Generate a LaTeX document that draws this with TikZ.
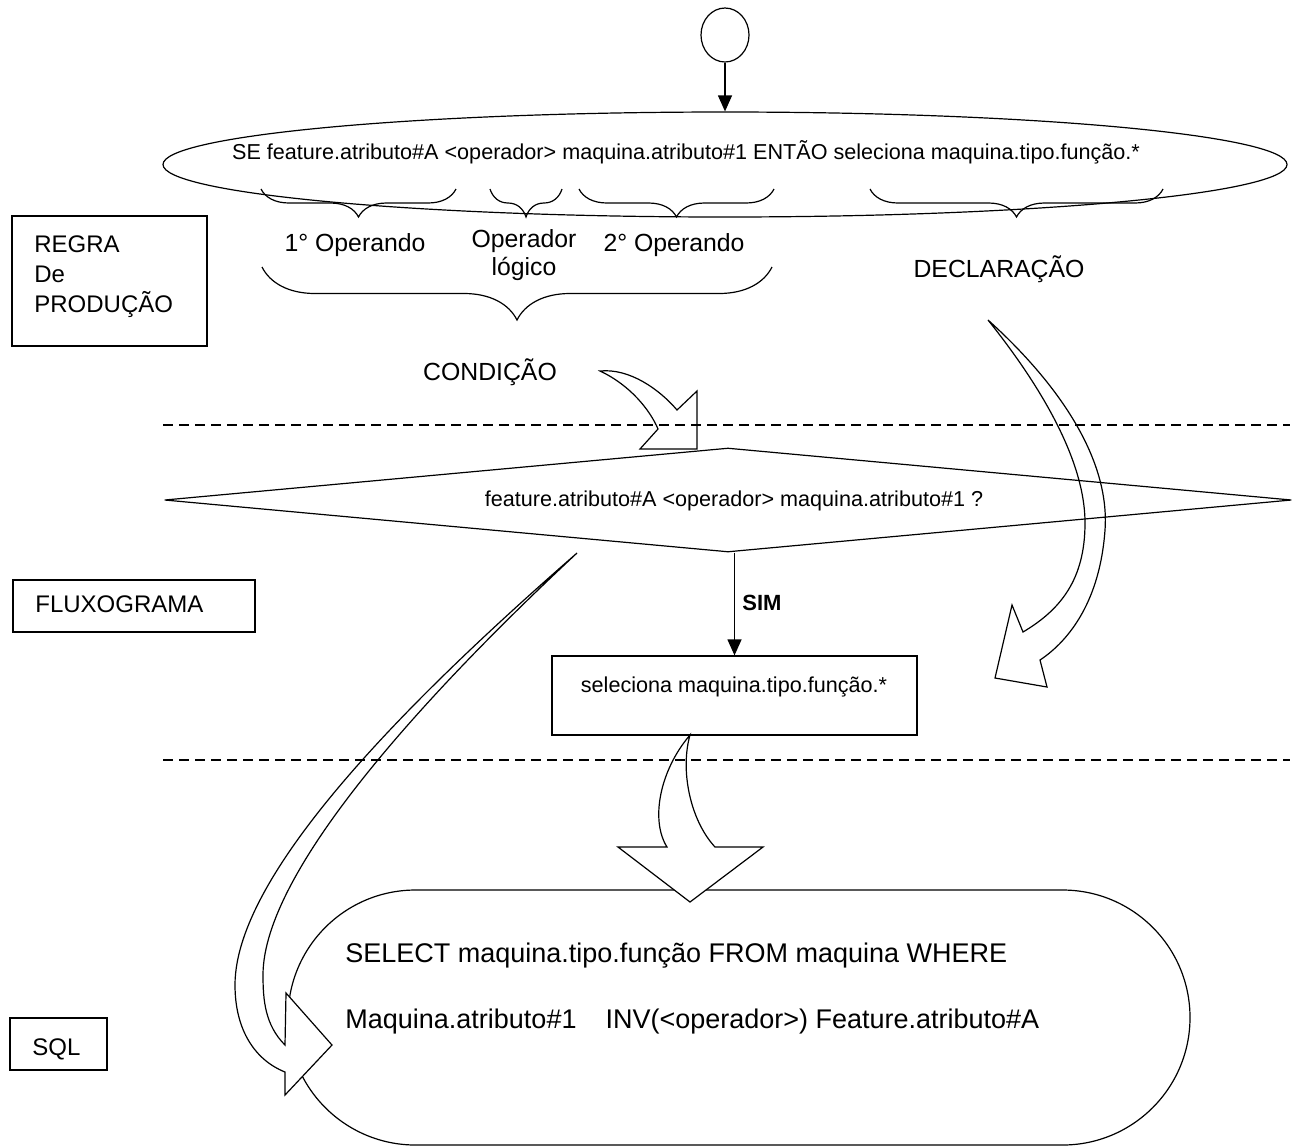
\documentclass[tikz,border=0pt]{standalone}
\usepackage{fontspec}
\setmainfont{Liberation Sans}
\usetikzlibrary{shapes.geometric,arrows.meta,decorations.pathreplacing}
\tikzset{
  box/.style={draw,line width=0.6pt,inner sep=0pt},
  flow/.style={line width=0.6pt,-{Triangle[length=8pt,width=7pt]}},
  bigarrow/.style={draw,line width=0.6pt,line join=miter},
  sep/.style={line width=1pt,dash pattern=on 5pt off 3pt},
  curly/.style={line width=0.6pt,decorate,decoration={brace,mirror,amplitude=#1}},
  rul/.style={font=\fontsize{10.8}{13}\selectfont,inner sep=0pt,anchor=base},
  lbl/.style={font=\fontsize{12.4}{14}\selectfont,inner sep=0pt,anchor=base},
  side/.style={font=\fontsize{12}{15}\selectfont,inner sep=0pt,anchor=base west,align=left},
  sqltxt/.style={font=\fontsize{13.5}{16}\selectfont,inner sep=0pt,anchor=base west}
}
\begin{document}
\begin{tikzpicture}[x=0.5pt,y=-0.5pt]
\useasboundingbox (0,0) rectangle (1299,1147);
\node[box,ellipse,minimum width=24pt,minimum height=27pt] (start) at (725,35) {};
\node[box,ellipse,minimum width=562pt,minimum height=52.5pt] (rule) at (725,164.5) {};
\node[rul] (ruletext) at (686,159) {SE feature.atributo\#A <operador> maquina.atributo\#1 ENTÃO seleciona maquina.tipo.função.*};
\draw[flow] (start) -- (rule);
\draw[curly=14pt] (261,189) -- (456,189);
\draw[curly=14pt] (490,189) -- (562,189);
\draw[curly=14pt] (579,189) -- (774,189);
\draw[curly=14pt] (870,189) -- (1163,189);
\node[lbl] (opnd1) at (355,251) {1° Operando};
\node[lbl,align=center] (oplog) at (524,275) {Operador\\lógico};
\node[lbl] (opnd2) at (674,251) {2° Operando};
\node[lbl] (decl) at (999,277) {DECLARAÇÃO};
\draw[curly=26.5pt] (262,267) -- (772,267);
\node[lbl] (cond) at (490,380) {CONDIÇÃO};
\node[box,minimum width=97.5pt,minimum height=65pt] (regrabox) at (109.5,281) {};
\node[side] (regra) at (34,312) {REGRA\\De\\PRODUÇÃO};
\node[box,minimum width=121pt,minimum height=26pt] (fluxbox) at (134,606) {};
\node[side] (flux) at (35,612) {FLUXOGRAMA};
\node[box,minimum width=48.5pt,minimum height=26pt] (sqlbox) at (58.5,1044) {};
\node[side] (sqllabel) at (32,1055) {SQL};
\node[box,diamond,minimum width=563.5pt,minimum height=52pt] (decision) at (728,500) {};
\node[rul] (decisiontext) at (734,506) {feature.atributo\#A <operador> maquina.atributo\#1 ?};
\node[box,minimum width=182.5pt,minimum height=39.5pt] (select) at (734.5,695.5) {};
\node[rul] (selecttext) at (734,692) {seleciona maquina.tipo.função.*};
\draw[flow] (select.north |- decision.south) -- (select.north);
\node[font=\fontsize{11}{13}\selectfont\bfseries,inner sep=0pt,anchor=base west] (sim) at (742,610) {SIM};
\node[box,rounded corners=63.75pt,minimum width=451pt,minimum height=127.5pt] (query) at (739,1017.5) {};
\node[sqltxt] (query1) at (345,962) {SELECT maquina.tipo.função FROM maquina WHERE};
\node[sqltxt] (query2) at (345,1028) {Maquina.atributo\#1\hspace{14.5pt}INV(<operador>) Feature.atributo\#A};
\draw[bigarrow] (600,371) .. controls (630,368) and (660,390) .. (677,410) -- (697,391) -- (697,449) -- (640,449) -- (658,429) .. controls (650,410) and (630,385) .. (600,371) -- cycle;
\draw[bigarrow] (988,320) .. controls (1060,385) and (1110,460) .. (1105,530) .. controls (1100,600) and (1070,640) .. (1040,660) -- (1047,687) -- (995,678) -- (1012,605) -- (1023,632) .. controls (1060,610) and (1085,580) .. (1085,523) .. controls (1085,460) and (1040,385) .. (988,320) -- cycle;
\draw[bigarrow,fill=white] (577,553) .. controls (420,690) and (235,870) .. (235,985) .. controls (235,1030) and (255,1060) .. (285,1072) -- (285,1095) -- (332,1045) -- (286,993) -- (285,1045) .. controls (265,1025) and (263,1000) .. (263,975) .. controls (263,870) and (430,690) .. (577,553) -- cycle;
\draw[bigarrow,fill=white] (690,735) .. controls (660,770) and (650,820) .. (667,847) -- (618,847) -- (690,902) -- (763,847) -- (715,847) .. controls (690,820) and (680,770) .. (690,735) -- cycle;
\draw[sep] (163,425) -- (1290,425);
\draw[sep] (163,760) -- (1290,760);
\end{tikzpicture}
\end{document}
